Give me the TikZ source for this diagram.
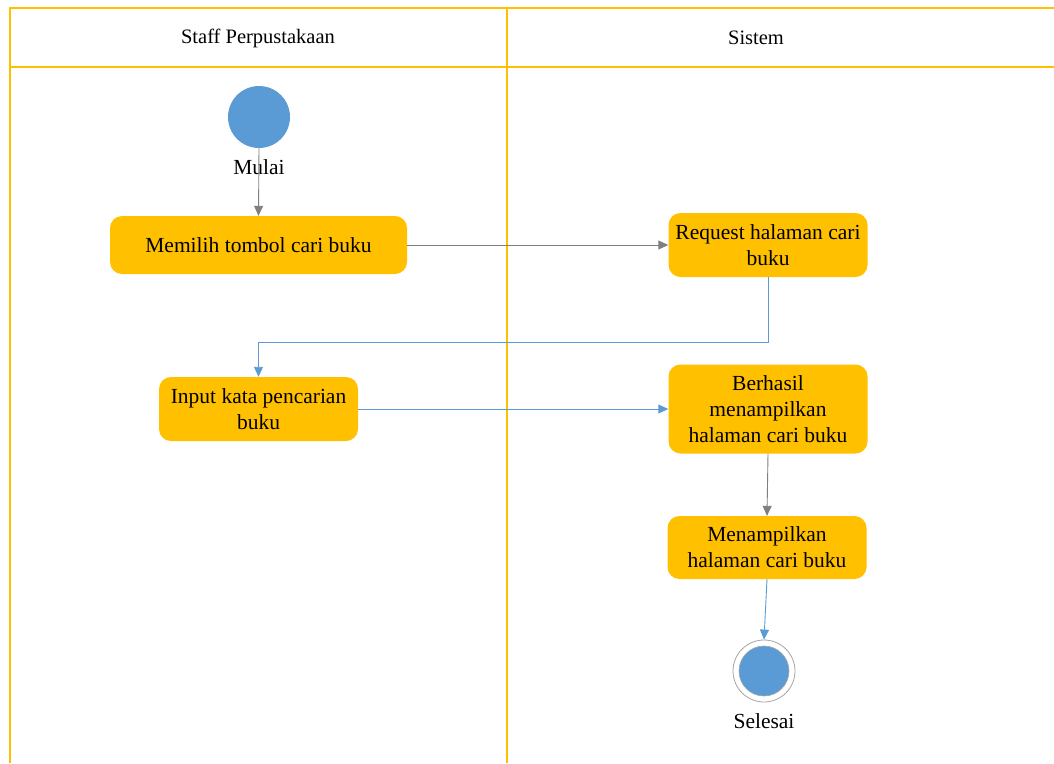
\documentclass[tikz,border=0pt]{standalone}
\usepackage{fontspec}
\setmainfont{Liberation Serif}
\usetikzlibrary{arrows.meta}
\definecolor{laneyellow}{HTML}{FFC000}
\definecolor{actblue}{HTML}{5B9BD5}
\definecolor{flowgray}{HTML}{7F7F7F}

\begin{document}
\begin{tikzpicture}
        [x=1pt,y=-1pt,
        actbox/.style={draw=none,fill=laneyellow,rounded corners=12pt,align=center,inner sep=0,font=\fontsize{21.5}{26}\selectfont},
        startnode/.style={circle,fill=actblue,inner sep=0,minimum size=62pt},
        endnode/.style={circle,draw=flowgray!70,line width=0.8pt,fill=white,inner sep=0,minimum size=62pt},
        flowg/.style={draw=flowgray,line width=0.9pt,-{Triangle[length=10pt,width=9pt]}},
        flowb/.style={draw=actblue,line width=0.9pt,-{Triangle[length=10pt,width=9pt]}},
        lane/.style={draw=laneyellow,line width=1.6pt}]

        \useasboundingbox (0,0) rectangle (1054,763);

        % swimlanes
        \coordinate (tl) at (10,8);
        \coordinate (tr) at (1054,8);
        \coordinate (hl) at (10,67);
        \coordinate (hr) at (1054,67);
        \coordinate (bl) at (10,763);
        \coordinate (dt) at (507,8);
        \coordinate (db) at (507,763);
        \draw[lane] (tr) -- (tl) -- (bl);
        \draw[lane] (hl) -- (hr);
        \draw[lane] (dt) -- (db);
        \node[font=\fontsize{20.5}{24}\selectfont] (lane1) at (258,38) {Staff Perpustakaan};
        \node[font=\fontsize{20.5}{24}\selectfont] (lane2) at (756,38) {Sistem};

        % activities
        \node[startnode] (s) at (259,117) {};
        \node[font=\fontsize{21.5}{24}\selectfont] (sl) at (259,167) {Mulai};
        \node[actbox,minimum width=297pt,minimum height=58pt] (a1) at (258.5,245) {Memilih tombol cari buku};
        \node[actbox,minimum width=199pt,minimum height=64pt] (a2) at (768,245) {Request halaman cari\\buku};
        \node[actbox,minimum width=199pt,minimum height=64pt] (a3) at (258.5,409) {Input kata pencarian\\buku};
        \node[actbox,minimum width=199pt,minimum height=89pt] (a4) at (768,409) {Berhasil\\menampilkan\\halaman cari buku};
        \node[actbox,minimum width=199pt,minimum height=63pt] (a5) at (767,547.5) {Menampilkan\\halaman cari buku};
        \node[endnode] (e) at (764,671) {};
        \node[circle,fill=actblue,draw=flowgray!70,line width=0.6pt,inner sep=0,minimum size=50pt] (ei) at (764,671) {};
        \node[font=\fontsize{21.5}{24}\selectfont] (el) at (764,721) {Selesai};

        % flows
        \coordinate (c1) at (768,342);
        \draw[flowg] (s.south) -- (a1.north);
        \draw[flowg] (a1.east) -- (a2.west);
        \draw[flowb] (a2.south) -- (c1) -| (a3.north);
        \draw[flowb] (a3.east) -- (a4.west);
        \draw[flowg] (a4.south) -- (a5.north);
        \draw[flowb] (a5.south) -- (e.north);

      \end{tikzpicture}
\end{document}
